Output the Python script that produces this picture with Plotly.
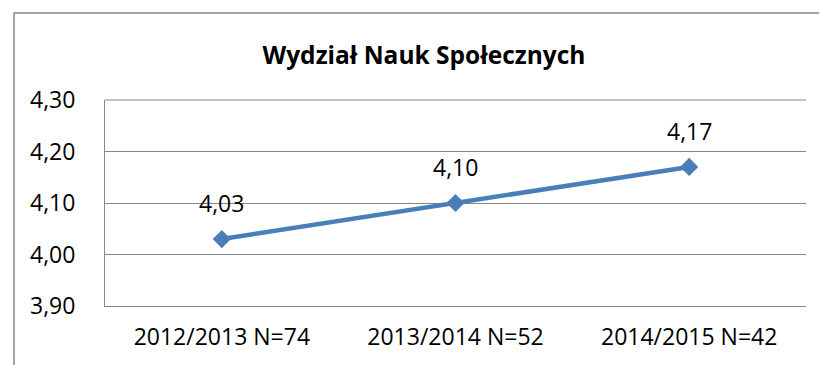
import plotly.graph_objects as go

# Academic years with survey sample sizes, and mean scores
categories = ["2012/2013 N=74", "2013/2014 N=52", "2014/2015 N=42"]
scores = [4.03, 4.10, 4.17]
y_ticks = [3.90, 4.00, 4.10, 4.20, 4.30]
title_text = "Wydział Nauk Społecznych"

LINE_BLUE = "#4a7ebb"
GRID = "#878787"
FONT = "Open Sans, Arial, sans-serif"

W, H = 819, 365
M_L, M_R, M_T, M_B = 105, 13, 100, 59
PW, PH = W - M_L - M_R, H - M_T - M_B


def fmt(v):
    return f"{v:.2f}".replace(".", ",")


fig = go.Figure()
fig.add_trace(go.Scatter(
    x=categories,
    y=scores,
    mode="lines+markers",
    line=dict(color=LINE_BLUE, width=4.5),
    marker=dict(symbol="diamond", size=14, color=LINE_BLUE),
    hoverinfo="skip",
    showlegend=False,
))

# value labels above each point
for c, v in zip(categories, scores):
    fig.add_annotation(
        x=c, y=v, text=fmt(v), showarrow=False,
        yshift=36, font=dict(family=FONT, size=23, color="black"),
    )

# top gridline at the upper edge of the plot area
fig.add_shape(
    type="line", xref="paper", yref="paper",
    x0=0, x1=1, y0=1, y1=1,
    line=dict(color=GRID, width=1), layer="below",
)

# outer chart frame (left and top edges)
fx0 = (14 - M_L) / PW
fy_top = (H - M_B - 13) / PH
fy_bot = (H - M_B - (H + 10)) / PH
fx1 = (W + 10 - M_L) / PW
fig.add_shape(
    type="path", xref="paper", yref="paper",
    path=f"M {fx0} {fy_bot} L {fx0} {fy_top} L {fx1} {fy_top}",
    line=dict(color=GRID, width=1.5),
)

fig.update_layout(
    width=W, height=H,
    margin=dict(l=M_L, r=M_R, t=M_T, b=M_B),
    paper_bgcolor="white", plot_bgcolor="white",
    separators=", ",
    title=dict(
        text=f"<b>{title_text}</b>", x=(424 - M_L) / PW, xref="paper", xanchor="center",
        y=1 - 55 / H, yref="container", yanchor="middle",
        font=dict(family=FONT, size=24.5, color="black"),
    ),
    font=dict(family=FONT, size=23, color="black"),
    xaxis=dict(
        range=[-0.5, 2.5], showgrid=False, zeroline=False,
        showline=True, linecolor=GRID, linewidth=1,
        ticks="", ticklabelstandoff=10,
        tickfont=dict(family=FONT, size=23, color="black"),
    ),
    yaxis=dict(
        range=[3.9, 4.3], tickvals=y_ticks, tickformat=".2f",
        showgrid=True, gridcolor=GRID, gridwidth=1, zeroline=False,
        showline=True, linecolor=GRID, linewidth=1,
        ticks="", ticklabelstandoff=24,
        tickfont=dict(family=FONT, size=23, color="black"),
    ),
)

fig.write_html("out.html")
